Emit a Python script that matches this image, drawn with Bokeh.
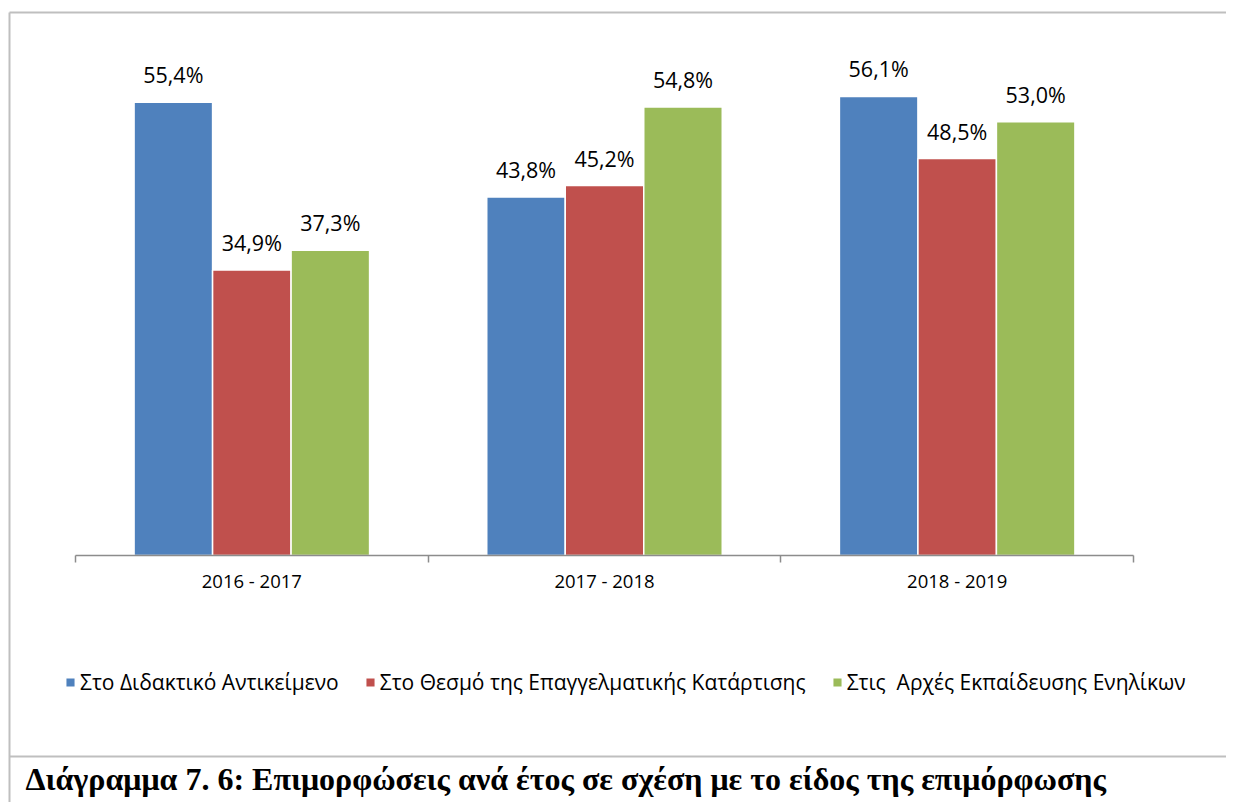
from bokeh.plotting import figure
from bokeh.models import (ColumnDataSource, Range1d, FixedTicker, Legend, LegendItem,
                          LabelSet, Label)
from bokeh.core.properties import value
from bokeh.embed import file_html
from bokeh.resources import INLINE

# ---- data ----
years = ["2016 - 2017", "2017 - 2018", "2018 - 2019"]
series_names = ["Στο Διδακτικό Αντικείμενο",
                "Στο Θεσμό της Επαγγελματικής Κατάρτισης",
                "Στις  Αρχές Εκπαίδευσης Ενηλίκων"]
didaktiko = [55.4, 43.8, 56.1]
thesmos = [34.9, 45.2, 48.5]
arxes = [37.3, 54.8, 53.0]
caption = "Διάγραμμα 7. 6:  Επιμορφώσεις ανά έτος σε σχέση με το είδος της επιμόρφωσης"

colors = ["#4F81BD", "#C0504D", "#9BBB59"]
values_list = [didaktiko, thesmos, arxes]

# ---- layout geometry (canvas pixels) ----
W, H = 1226, 802
AX_LEFT, AX_RIGHT = 75.0, 1133.0     # extent of the category axis
AX_Y, VMAX_PX = 555.0, 64.0           # baseline pixel, pixel of 60 %
VMAX = 60.0
px_x = (AX_RIGHT - AX_LEFT) / len(years)
px_y = (AX_Y - VMAX_PX) / VMAX

def X(px):
    return (px - AX_LEFT) / px_x

def Y(py):
    return (AX_Y - py) / px_y

p = figure(width=W, height=H,
           x_range=Range1d(X(0), X(W)), y_range=Range1d(Y(H), Y(0)),
           output_backend="svg", toolbar_location=None,
           min_border=0, min_border_left=0, min_border_right=0,
           min_border_top=0, min_border_bottom=0)
p.outline_line_color = None
p.xgrid.visible = False
p.ygrid.visible = False
p.yaxis.visible = False
p.background_fill_color = "white"
p.border_fill_color = "white"

ax = p.xaxis[0]
centers = [i + 0.5 for i in range(len(years))]
ax.fixed_location = 0
ax.bounds = (0, len(years))
ax.ticker = FixedTicker(ticks=centers, minor_ticks=list(range(len(years) + 1)))
ax.major_label_overrides = {c: y for c, y in zip(centers, years)}
ax.major_tick_out = 0
ax.major_tick_in = 0
ax.minor_tick_in = 0
ax.minor_tick_out = 7
ax.minor_tick_line_color = "#8c8c8c"
ax.minor_tick_line_width = 1.5
ax.axis_line_color = "#8c8c8c"
ax.axis_line_width = 1.5
ax.major_label_text_font = "Open Sans"
ax.major_label_text_font_size = "18.5px"
ax.major_label_text_color = "#000000"
ax.major_label_standoff = 5

# outer frame lines (left, top, separator above the caption)
p.multi_line(xs=[[X(9), X(9)], [X(9), X(W + 50)], [X(9), X(W + 50)]],
             ys=[[Y(12), Y(H + 50)], [Y(12), Y(12)], [Y(756), Y(756)]],
             line_color="#bfbfbf", line_width=2)

bar_w = 0.2226
offsets = [-bar_w, 0.0, bar_w]
renderers = []
for vals, col, off in zip(values_list, colors, offsets):
    src = ColumnDataSource(dict(
        x=[c + off for c in centers],
        top=vals,
        label=[f"{v:.1f}".replace(".", ",") + "%" for v in vals],
    ))
    r = p.vbar(x="x", top="top", width=bar_w, source=src,
               fill_color=col, line_color="white", line_width=1.5)
    renderers.append(r)
    p.add_layout(LabelSet(x="x", y="top", text="label", source=src,
                          text_align="center", text_baseline="alphabetic", y_offset=19,
                          text_font=value("Open Sans"), text_font_size=value("21.5px"),
                          text_color=value("#000000")))

legend = Legend(items=[LegendItem(label=n, renderers=[r]) for n, r in zip(series_names, renderers)],
                orientation="horizontal", location=(64, H - 696),
                glyph_width=12, glyph_height=12, label_standoff=4, spacing=25,
                padding=0, margin=0, border_line_color=None, background_fill_alpha=0,
                label_text_font="Open Sans", label_text_font_size="21px",
                label_text_color="#000000")
p.add_layout(legend, "center")

p.add_layout(Label(x=X(25), y=Y(778), text=caption,
                   text_font="Liberation Serif", text_font_style="bold",
                   text_font_size="32px", text_color="#000000",
                   text_baseline="alphabetic", text_align="left"))

open("out.html", "w").write(file_html(p, INLINE))
